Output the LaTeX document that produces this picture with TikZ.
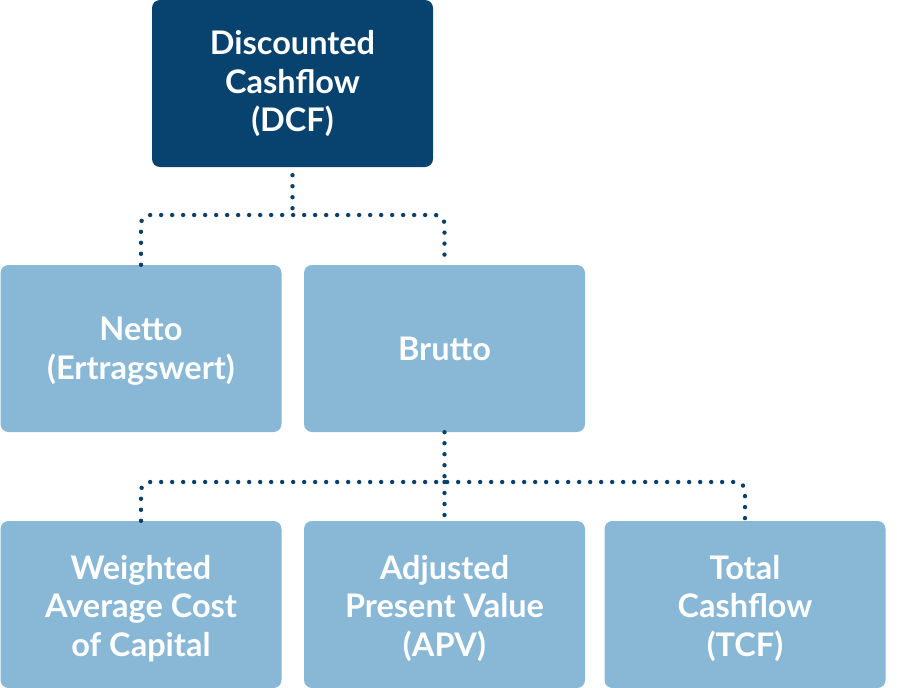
\documentclass[tikz,border=0pt]{standalone}
\usepackage{fontspec}
\setmainfont{Lato}
\definecolor{darkbox}{HTML}{08426F}
\definecolor{lightbox}{HTML}{89B7D6}
\definecolor{dotcol}{HTML}{0A3F6B}
\newcommand{\lowerby}[1]{\rule{0pt}{#1}}
\begin{document}
\begin{tikzpicture}[x=1pt,y=-1pt,
  box/.style={rectangle, rounded corners=8pt, minimum width=281pt, minimum height=167pt,
    inner sep=0pt, text=white, align=center, font=\fontsize{32.5}{38.5}\selectfont\bfseries},
  topbox/.style={box, fill=darkbox},
  subbox/.style={box, fill=lightbox},
  link/.style={draw=dotcol, line width=4.4pt, line cap=round, dash pattern=on 0pt off 11pt, rounded corners=9pt}]
\useasboundingbox (0,0) rectangle (897,688);
\node[topbox] (dcf) at (292.5,83.5) {Discounted\\Cashflow\\(DCF)};
\node[subbox] (netto) at (141,348.5) {\lowerby{29pt}Netto\\(Ertragswert)};
\node[subbox] (brutto) at (444.5,348.5) {Brutto};
\node[subbox] (wacc) at (141,604.5) {\lowerby{32pt}Weighted\\Average Cost\\of Capital};
\node[subbox] (apv) at (444.5,604.5) {\lowerby{32pt}Adjusted\\Present Value\\(APV)};
\node[subbox] (tcf) at (745,604.5) {\lowerby{32pt}Total\\Cashflow\\(TCF)};
\coordinate (j1) at (292.5,215);
\coordinate (j2) at (444.5,482);
\draw[link] (dcf.south) ++(0,8) -- (j1);
\draw[link] (netto.north) |- (j1) -| (brutto.north);
\draw[link] (brutto.south) -- (j2);
\draw[link] (wacc.north) |- (j2) -| (tcf.north);
\draw[link] (j2) -- (apv.north);
\end{tikzpicture}
\end{document}
